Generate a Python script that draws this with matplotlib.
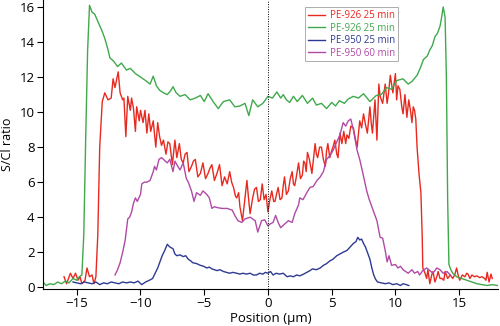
import matplotlib
matplotlib.use("Agg")
import matplotlib.pyplot as plt

plt.rcParams['font.family'] = ['Open Sans', 'DejaVu Sans']

# PE-926 25 min (red)
red_x = [-16.0, -15.8, -15.65, -15.5, -15.3, -15.1, -14.9, -14.75, -14.6, -14.35, -14.2, -14.0, -13.8, -13.65, -13.5,
         -13.35, -13.2, -13.0, -12.8, -12.55, -12.3, -12.15, -12.0, -11.75, -11.6, -11.4, -11.3, -11.15, -11.0, -10.8,
         -10.7, -10.55, -10.4, -10.3, -10.1, -10.0, -9.8, -9.65, -9.5, -9.35, -9.2, -9.0, -8.8, -8.65, -8.5, -8.35,
         -8.2, -8.0, -7.85, -7.7, -7.5, -7.3, -7.15, -6.95, -6.8, -6.65, -6.5, -6.35, -6.2, -6.0, -5.85, -5.7, -5.5,
         -5.3, -5.1, -4.9, -4.7, -4.55, -4.4, -4.2, -4.0, -3.8, -3.6, -3.4, -3.2, -3.0, -2.85, -2.7, -2.55, -2.45,
         -2.3, -2.2, -2.0, -1.8, -1.65, -1.5, -1.4, -1.2, -1.05, -0.9, -0.75, -0.6, -0.45, -0.3, -0.15, 0.0, 0.15,
         0.3, 0.45, 0.55, 0.7, 0.8, 0.95, 1.1, 1.2, 1.3, 1.45, 1.6, 1.75, 1.9, 2.0, 2.1, 2.25, 2.4, 2.55, 2.7, 2.8,
         2.9, 3.0, 3.1, 3.25, 3.45, 3.6, 3.7, 3.8, 3.9, 4.05, 4.2, 4.35, 4.5, 4.6, 4.7, 4.85, 5.0, 5.1, 5.25, 5.4,
         5.5, 5.65, 5.8, 5.95, 6.1, 6.2, 6.35, 6.5, 6.7, 6.85, 7.0, 7.2, 7.35, 7.5, 7.65, 7.8, 8.0, 8.1, 8.2, 8.4,
         8.55, 8.7, 8.8, 9.0, 9.2, 9.35, 9.45, 9.6, 9.8, 10.0, 10.1, 10.2, 10.35, 10.5, 10.6, 10.75, 10.9, 11.05,
         11.2, 11.3, 11.4, 11.5, 11.6, 11.7, 11.85, 12.0, 12.1, 12.15, 12.3, 12.45, 12.55, 12.7, 12.85, 12.95, 13.1,
         13.25, 13.35, 13.5, 13.65, 13.8, 13.9, 14.1, 14.3, 14.5, 14.65, 14.8, 14.95, 15.05, 15.25, 15.45, 15.6,
         15.7, 15.85, 16.0, 16.2, 16.4, 16.6, 16.8, 17.0, 17.1, 17.2, 17.35, 17.5, 17.6]
red_y = [0.6, 0.2, 0.5, 0.8, 0.5, 0.8, 0.4, 0.6, 0.2, 0.4, 1.1, 0.6, 0.7, 0.2, 0.6,
         3.0, 8.0, 10.6, 11.1, 10.7, 10.8, 11.9, 11.4, 12.3, 11.1, 10.7, 10.8, 8.6, 10.9, 10.1,
         10.8, 10.2, 8.9, 10.3, 9.5, 10.1, 9.4, 10.1, 8.8, 9.9, 8.9, 9.5, 8.0, 9.4, 8.6, 8.1,
         8.4, 7.6, 8.3, 8.2, 7.0, 8.4, 7.4, 8.2, 7.3, 7.1, 7.6, 7.7, 6.6, 6.9, 7.2, 7.3, 6.3,
         6.5, 7.1, 6.2, 6.5, 6.8, 7.0, 6.1, 6.5, 7.0, 5.8, 6.3, 5.9, 6.6, 6.0, 5.7, 5.2, 5.1,
         5.4, 4.6, 3.8, 5.1, 6.1, 4.9, 4.2, 5.1, 5.6, 5.7, 4.9, 5.0, 5.9, 5.0, 5.3, 4.3, 5.0,
         5.5, 4.9, 4.9, 5.4, 5.7, 5.0, 5.1, 5.8, 6.3, 5.3, 5.5, 6.2, 6.6, 5.9, 5.8, 6.4, 7.1, 6.2, 6.4, 7.2,
         7.1, 6.6, 7.7, 7.3, 6.5, 7.5, 8.2, 7.6, 7.4, 8.0, 8.0, 7.3, 6.9, 7.8, 8.2, 7.4, 7.8, 8.0, 8.4, 7.6,
         7.4, 8.8, 8.2, 8.9, 8.2, 8.7, 8.5, 9.2, 9.1, 8.5, 8.0, 9.5, 9.1, 9.9, 9.3, 8.8, 10.3, 9.4, 8.8, 10.7,
         8.4, 11.6, 10.9, 10.5, 11.6, 10.5, 11.0, 12.1, 11.1, 12.2, 10.7, 11.5, 11.3, 10.3, 9.9, 11.0, 9.7, 10.7,
         10.0, 9.4, 10.3, 10.1, 9.6, 8.0, 6.5, 5.4, 3.0, 1.1, 0.85, 0.5, 1.0, 0.2, 0.7, 0.9, 0.3,
         0.6, 0.9, 0.5, 0.5, 0.4, 0.9, 0.5, 0.7, 0.5, 0.7, 1.1, 0.6, 0.4, 0.7, 0.6, 0.8,
         0.75, 0.5, 0.7, 0.6, 0.65, 0.55, 0.6, 0.5, 0.4, 0.85, 0.3, 0.75, 0.5]

# PE-926 25 min (green)
green_x = [-17.65, -17.4, -17.1, -16.8, -16.5, -16.2, -15.9, -15.6, -15.3, -15.0, -14.8, -14.6, -14.45, -14.3,
           -14.15, -14.0, -13.8, -13.6, -13.3, -13.0, -12.8, -12.6, -12.4, -12.1, -11.8, -11.5, -11.1, -10.8,
           -10.4, -10.0, -9.6, -9.25, -9.0, -8.75, -8.5, -8.2, -7.9, -7.65, -7.45, -7.2, -6.9, -6.5, -6.1, -5.7,
           -5.3, -5.0, -4.7, -4.3, -3.9, -3.5, -3.0, -2.6, -2.2, -1.8, -1.5, -1.2, -0.8, -0.4, 0.0, 0.35, 0.7,
           1.0, 1.2, 1.45, 1.7, 2.0, 2.3, 2.7, 3.1, 3.5, 3.8, 4.2, 4.6, 5.0, 5.3, 5.6, 6.0, 6.3, 6.7, 7.1, 7.5,
           8.0, 8.5, 8.9, 9.3, 9.7, 10.1, 10.6, 11.0, 11.3, 11.7, 12.0, 12.2, 12.5, 12.7, 12.9, 13.1, 13.3, 13.5,
           13.6, 13.75, 13.9, 14.0, 14.1, 14.2, 14.35, 14.5, 14.8, 15.2, 15.6, 16.0, 16.4, 16.8, 17.2, 17.6, 18.0]
green_y = [0.3, 0.1, 0.2, 0.15, 0.3, 0.2, 0.35, 0.25, 0.5, 0.4, 0.6, 0.7, 3.0, 8.5,
           13.5, 16.1, 15.7, 15.6, 15.1, 14.6, 14.2, 13.7, 13.1, 12.9, 12.6, 12.8, 12.4, 12.5,
           12.2, 12.0, 11.8, 11.6, 12.05, 11.5, 11.25, 11.1, 11.0, 11.2, 11.45, 11.1, 10.9, 11.0, 10.7, 10.8,
           10.95, 10.6, 11.05, 10.6, 10.2, 10.6, 10.7, 10.3, 10.35, 10.5, 9.8, 10.7, 10.3, 10.5, 10.9, 10.8, 11.15,
           10.8, 11.0, 10.7, 10.55, 10.9, 10.6, 10.95, 10.5, 10.8, 10.4, 10.5, 10.2, 10.55, 10.35, 10.65, 10.5, 10.75, 10.9, 10.8, 11.05,
           10.6, 10.95, 11.0, 11.4, 11.3, 11.8, 11.9, 11.6, 11.75, 12.1, 12.6, 13.0, 13.2, 13.55, 13.8, 14.3, 14.5, 14.9,
           15.3, 16.0, 15.4, 12.0, 5.0, 1.3, 1.0, 0.8, 0.6, 0.5, 0.4, 0.3, 0.2, 0.15, 0.1, 0.15, 0.1]

# PE-950 25 min (blue)
blue_x = [-15.3, -15.0, -14.7, -14.4, -14.1, -13.8, -13.5, -13.2, -12.9, -12.6, -12.3, -12.0, -11.7, -11.4,
          -11.1, -10.8, -10.5, -10.2, -9.9, -9.6, -9.3, -9.05, -8.85, -8.65, -8.5, -8.3, -8.1, -7.9, -7.7, -7.45,
          -7.3, -7.15, -6.9, -6.65, -6.45, -6.25, -6.05, -5.9, -5.6, -5.3, -5.05, -4.8, -4.6, -4.4, -4.2, -4.0,
          -3.75, -3.5, -3.25, -3.0, -2.75, -2.45, -2.2, -1.95, -1.7, -1.4, -1.15, -0.9, -0.65, -0.4, -0.2, 0.0,
          0.2, 0.4, 0.65, 0.9, 1.2, 1.5, 1.75, 2.0, 2.25, 2.5, 2.8, 3.05, 3.3, 3.5, 3.8, 4.1, 4.35, 4.6, 4.85,
          5.1, 5.4, 5.65, 5.9, 6.2, 6.45, 6.7, 6.9, 7.05, 7.2, 7.35, 7.5, 7.65, 7.85, 8.0, 8.15, 8.3, 8.45, 8.6,
          8.9, 9.2, 9.5, 9.8, 10.1, 10.4, 10.6, 10.85, 11.05]
blue_y = [0.3, 0.25, 0.2, 0.3, 0.25, 0.2, 0.3, 0.15, 0.25, 0.2, 0.3, 0.25, 0.2, 0.3,
          0.25, 0.3, 0.25, 0.35, 0.15, 0.3, 0.4, 0.5, 0.8, 1.1, 1.4, 1.8, 2.1, 2.45, 2.3, 2.2,
          1.9, 1.8, 1.85, 1.75, 1.8, 1.6, 1.5, 1.4, 1.35, 1.25, 1.2, 1.1, 1.15, 1.05, 1.0, 0.95,
          1.0, 0.9, 0.85, 0.8, 0.85, 0.8, 0.75, 0.8, 0.75, 0.8, 0.7, 0.7, 0.8, 0.75, 0.85, 0.8,
          0.9, 0.7, 0.8, 0.75, 0.8, 0.6, 0.65, 0.6, 0.7, 0.65, 0.75, 0.85, 0.95, 1.05, 1.0, 1.1, 1.25, 1.35, 1.5,
          1.6, 1.8, 1.9, 2.0, 2.1, 2.3, 2.5, 2.6, 2.85, 2.7, 2.75, 2.5, 2.3, 1.9, 1.6, 1.1, 0.7, 0.45, 0.3,
          0.25, 0.2, 0.25, 0.15, 0.2, 0.1, 0.2, 0.15, 0.1]

# PE-950 60 min (magenta)
mag_x = [-12.0, -11.8, -11.6, -11.4, -11.2, -11.0, -10.85, -10.7, -10.55, -10.4, -10.25, -10.0, -9.9, -9.7,
         -9.5, -9.25, -9.0, -8.9, -8.75, -8.55, -8.35, -8.2, -7.9, -7.7, -7.45, -7.3, -7.15, -6.9, -6.65, -6.4,
         -6.25, -6.0, -5.8, -5.6, -5.3, -5.1, -4.8, -4.6, -4.4, -4.2, -4.0, -3.6, -3.2, -2.8, -2.6, -2.35, -2.05,
         -1.8, -1.4, -1.0, -0.8, -0.5, -0.25, 0.0, 0.15, 0.4, 0.6, 0.8, 1.0, 1.3, 1.6, 1.9, 2.1, 2.4, 2.5, 2.75,
         3.05, 3.3, 3.55, 3.85, 4.1, 4.35, 4.6, 4.85, 5.1, 5.4, 5.65, 5.9, 6.1, 6.3, 6.5, 6.7, 6.85, 7.0, 7.2,
         7.45, 7.75, 7.95, 8.15, 8.35, 8.55, 8.8, 9.0, 9.2, 9.35, 9.5, 9.7, 10.0, 10.2, 10.4, 10.6, 10.8, 11.0,
         11.3, 11.5, 11.75, 11.9, 12.15, 12.45, 12.7, 12.95, 13.25, 13.5, 13.75, 14.05, 14.3]
mag_y = [0.7, 1.0, 1.4, 2.0, 2.7, 3.9, 4.0, 4.3, 4.8, 5.1, 4.9, 5.3, 5.9, 6.0,
         6.0, 6.1, 6.6, 6.9, 6.7, 7.3, 7.4, 7.3, 7.1, 7.3, 6.6, 7.2, 7.0, 6.7, 7.1, 6.2,
         6.0, 5.5, 4.9, 5.4, 5.25, 5.5, 5.3, 5.1, 4.5, 4.6, 4.55, 4.5, 4.5, 4.4, 4.1, 3.8, 3.7,
         3.9, 4.0, 3.8, 3.15, 3.8, 3.85, 3.5, 3.6, 3.7, 4.1, 3.7, 3.4, 3.6, 3.8, 3.7, 4.2, 4.7, 5.1, 5.0,
         5.4, 5.7, 5.75, 6.1, 6.3, 6.6, 7.3, 7.5, 7.8, 8.3, 8.7, 9.4, 9.2, 9.5, 9.6, 9.0, 8.4, 7.8, 7.3,
         6.5, 5.5, 5.0, 4.6, 4.2, 3.8, 2.85, 2.8, 2.1, 1.45, 1.8, 1.25, 1.3, 1.1, 1.2, 1.0, 0.9, 0.8,
         1.0, 0.8, 0.9, 0.7, 0.95, 1.1, 0.95, 0.8, 1.1, 1.0, 0.8, 0.9, 0.7]

labels = ['PE-926 25 min', 'PE-926 25 min', 'PE-950 25 min', 'PE-950 60 min']
colors = ['#e8291f', '#3fa94b', '#2e3a92', '#b04aa6']
xticks = [-15, -10, -5, 0, 5, 10, 15]
yticks = [0, 2, 4, 6, 8, 10, 12, 14, 16]

fig = plt.figure(figsize=(5, 3.26), dpi=100)
ax = fig.add_axes([0.086, 0.1135, 0.91, 0.8865])

series = [(red_x, red_y), (green_x, green_y), (blue_x, blue_y), (mag_x, mag_y)]
for (xs, ys), lab, c in zip(series, labels, colors):
    ax.plot(xs, ys, color=c, lw=1.0, label=lab)

ax.axvline(0, color='black', lw=0.7, ls=(0, (1, 1.5)))

ax.set_xlim(-17.65, 18.05)
ax.set_ylim(-0.1, 16.4)
ax.set_xticks(xticks)
ax.set_xticklabels(['\u2212%d' % -t if t < 0 else str(t) for t in xticks])
ax.set_yticks(yticks)
for s in ['top', 'right']:
    ax.spines[s].set_visible(False)
for s in ['left', 'bottom']:
    ax.spines[s].set_linewidth(0.8)
ax.tick_params(direction='out', length=4, width=0.8, labelsize=9.5, pad=2)
ax.set_xlabel('Position (\u00b5m)', fontsize=9.5, labelpad=1)
ax.set_ylabel('S/Cl ratio', fontsize=9, labelpad=4)

leg = ax.legend(loc='upper left', bbox_to_anchor=(0.576, 0.975), fontsize=7, handlelength=1.7,
                labelspacing=0.15, borderpad=0.3, handletextpad=0.6, frameon=True, fancybox=False,
                borderaxespad=0)
leg.get_frame().set_edgecolor('#888888')
leg.get_frame().set_linewidth(0.6)
for t, c in zip(leg.get_texts(), colors):
    t.set_color(c)

fig.savefig('out.png', dpi=100)
